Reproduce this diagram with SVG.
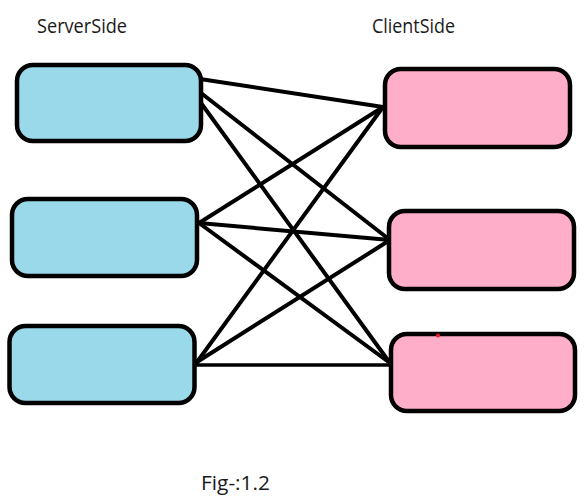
<svg xmlns="http://www.w3.org/2000/svg" width="586" height="496" viewBox="0 0 586 496">
<style>
.srv{fill:#99D9EA;stroke:#000;stroke-width:4.5}
.cli{fill:#FFAEC9;stroke:#000;stroke-width:4.5}
.lbl{font-family:"Open Sans","Liberation Sans",sans-serif;font-size:19.5px;fill:#1a1a1a}
#connectors line{stroke:#000;stroke-width:4;stroke-linecap:round}
</style>
<rect width="586" height="496" fill="#fff"/>
<text class="lbl" x="37" y="33" textLength="90" lengthAdjust="spacingAndGlyphs">ServerSide</text>
<text class="lbl" x="372" y="33" textLength="83" lengthAdjust="spacingAndGlyphs">ClientSide</text>
<text class="lbl" x="201" y="490" textLength="69" lengthAdjust="spacingAndGlyphs">Fig-:1.2</text>
<g id="connectors">
<line x1="200" y1="79" x2="383" y2="107"/>
<line x1="201" y1="93" x2="390" y2="240"/>
<line x1="201" y1="103" x2="390" y2="363"/>
<line x1="199" y1="223" x2="383" y2="107"/>
<line x1="199" y1="223" x2="390" y2="240"/>
<line x1="199" y1="223" x2="390" y2="363"/>
<line x1="197" y1="362" x2="383" y2="107"/>
<line x1="197" y1="362" x2="390" y2="240"/>
<line x1="197" y1="365" x2="390" y2="365" style="stroke-width:3.5"/>
</g>
<g id="server1"><rect class="srv" x="17" y="65" width="184" height="76" rx="16"/></g>
<g id="server2"><rect class="srv" x="12" y="199" width="185" height="77" rx="16"/></g>
<g id="server3"><rect class="srv" x="9.5" y="326" width="185" height="77" rx="16"/></g>
<g id="client1"><rect class="cli" x="385" y="69" width="185" height="78" rx="16"/></g>
<g id="client2"><rect class="cli" x="389" y="211" width="185" height="78" rx="16"/></g>
<g id="client3"><rect class="cli" x="391" y="334" width="184" height="77" rx="16"/></g>
<circle cx="438" cy="335.5" r="2" fill="#ED1C24"/>
</svg>
